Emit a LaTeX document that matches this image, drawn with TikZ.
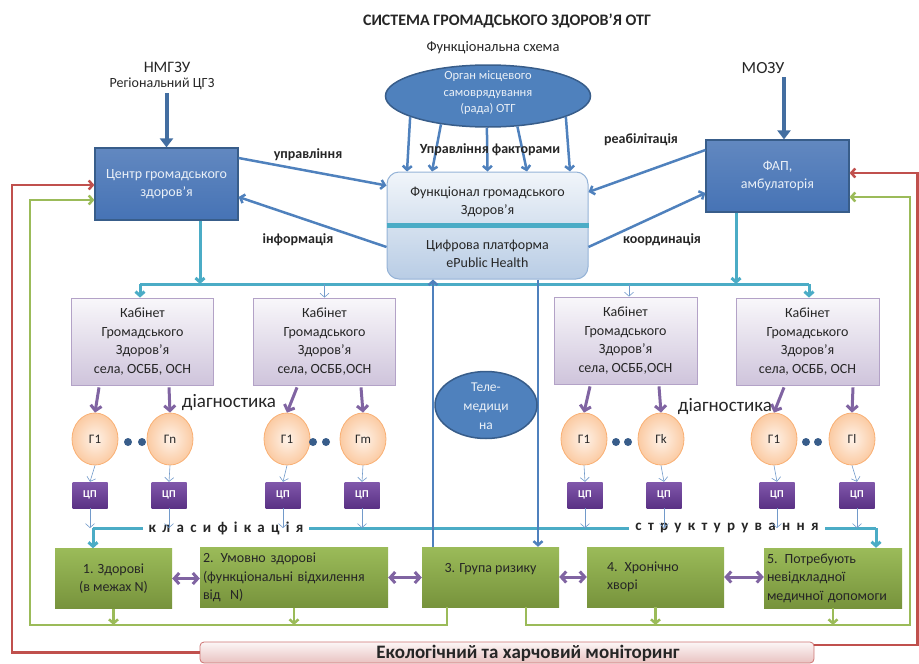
\documentclass[tikz,border=0pt]{standalone}
\usepackage{fontspec}
\setmainfont{Carlito}
\usetikzlibrary{arrows.meta,shapes.geometric,calc}

\definecolor{sbBlue}{HTML}{4F81BD}
\definecolor{sbBlueDark}{HTML}{385D8A}
\definecolor{sbBox}{HTML}{4673B5}
\definecolor{sbTeal}{HTML}{4BACC6}
\definecolor{sbPurple}{HTML}{8064A2}
\definecolor{sbViolet}{HTML}{6A3A9C}
\definecolor{sbGreen}{HTML}{9BBB59}
\definecolor{sbGreenDark}{HTML}{77933C}
\definecolor{sbRed}{HTML}{C0504D}
\definecolor{sbOrange}{HTML}{F79646}
\definecolor{sbText}{HTML}{262626}

\begin{document}
\begin{tikzpicture}[x=1pt, y=-1pt, >={Straight Barb[length=4pt,width=9pt]},
    boxfont/.style={font=\fontsize{14}{18.5}\selectfont},
    lbl/.style={font=\bfseries\fontsize{14}{16}\selectfont, text=sbText},
    bluebox/.style={draw=sbBlueDark, line width=1.2pt, top color=sbBox!85!white, bottom color=sbBox,
        text=white!88!sbBlue, align=center, minimum width=143pt, minimum height=72pt, boxfont},
    kabbox/.style={draw=sbPurple!60, line width=0.8pt, top color=sbPurple!5, bottom color=sbPurple!38,
        text=sbText, align=center, minimum width=142pt, minimum height=87pt, inner sep=0pt, boxfont},
    gnode/.style={ellipse, draw=sbOrange!75, line width=0.8pt, inner color=sbOrange!12, outer color=sbOrange!50,
        minimum width=46pt, minimum height=52pt, inner sep=0pt, text=sbText, font=\fontsize{13}{15}\selectfont},
    cpbox/.style={top color=sbViolet!85!white, bottom color=sbViolet!85!black, text=white,
        minimum width=35pt, minimum height=26pt, inner sep=0pt, font=\bfseries\fontsize{10.5}{12}\selectfont},
    grpbox/.style={top color=sbGreen, bottom color=sbGreenDark, text=sbText, minimum height=60pt,
        inner sep=0pt, boxfont},
    oval/.style={ellipse, draw=sbBlueDark, line width=1.5pt, fill=sbBlue, inner sep=0pt},
    ovaltext/.style={text=white!88!sbBlue, align=center},
    bluearrow/.style={->, draw=sbBlue, line width=2.5pt},
    bigarrow/.style={-{Triangle[length=9pt,width=13pt]}, draw=sbBlue!85!black, line width=4pt},
    tealarrow/.style={->, draw=sbTeal, line width=3pt},
    thinarrow/.style={->, draw=sbBlue!80, line width=0.6pt},
    purplearrow/.style={-{Straight Barb[length=5pt,width=11pt]}, draw=sbPurple, line width=3pt},
    greenline/.style={draw=sbGreen, line width=2.5pt},
    redline/.style={draw=sbRed, line width=2.5pt},
    spaced/.style={fill=white, inner xsep=6pt, inner ysep=1pt, text=sbText,
        font=\bfseries\fontsize{15}{17}\selectfont\addfontfeature{LetterSpace=42}}]

    % 1. Межі малюнка
    \useasboundingbox (0,0) rectangle (919,664);

    % 2. Заголовки та підписи зверху
    \node[font=\bfseries\fontsize{16}{18}\selectfont, text=sbText] (title) at (507,21) {СИСТЕМА ГРОМАДСЬКОГО ЗДОРОВ’Я ОТГ};
    \node[font=\fontsize{14.5}{16}\selectfont, text=sbText] (funkc) at (493,48) {Функціональна схема};
    \node[font=\fontsize{16}{18}\selectfont, text=sbText] (nmgzu) at (167,67) {НМГЗУ};
    \node[font=\fontsize{14}{16}\selectfont, text=sbText] (reg) at (162,84) {Регіональний ЦГЗ};
    \node[font=\fontsize{17}{18}\selectfont, text=sbText] (mozu) at (763,68) {МОЗУ};

    % 3. Верхній рівень
    \node[oval, minimum width=205pt, minimum height=62pt] (organ) at (488,96) {};
    \node[ovaltext, font=\fontsize{12.5}{16.5}\selectfont] (organt) at (488,93) {Орган місцевого\\самоврядування\\(рада) ОТГ};
    \node[bluebox] (cgz) at (166.5,184) {Центр громадського\\здоров’я};
    \node[bluebox] (fap) at (777.5,176) {ФАП,\\амбулаторія};
    \node[draw=sbBlue!60, line width=1pt, rounded corners=12pt, top color=sbBlue!8, bottom color=sbBlue!40,
          minimum width=201pt, minimum height=107pt] (plat) at (487.5,225.5) {};
    \draw[draw=sbTeal, line width=4.5pt] (plat.west) -- (plat.east);
    \node[boxfont, align=center, text=sbText] (platf) at (487.5,202) {Функціонал громадського\\Здоров’я};
    \node[boxfont, align=center, text=sbText] (platd) at (487.5,254) {Цифрова платформа\\ePublic Health};

    \draw[bigarrow] (cgz.north |- reg.south) -- (cgz.north);
    \coordinate (fapN) at ([xshift=6.5pt]fap.north);
    \draw[bigarrow] (fapN |- mozu.south) -- (fapN);

    % управління факторами
    \draw[bluearrow] (organ.195) -- ([xshift=-80.5pt]plat.north);
    \draw[bluearrow] (organ.211) -- ([xshift=-55.5pt]plat.north);
    \draw[bluearrow] (organ.268) -- (plat.north);
    \draw[bluearrow] (organ.314) -- ([xshift=39.5pt]plat.north);
    \draw[bluearrow] (organ.345) -- ([xshift=82.5pt]plat.north);
    \node[lbl] (uprf) at (490,150) {Управління факторами};

    % зв'язки з платформою
    \draw[bluearrow] ([yshift=26pt]cgz.east) -- ([yshift=40pt]plat.west);
    \draw[bluearrow] ([yshift=-21.5pt]plat.west) -- ([yshift=-13pt]cgz.east);
    \draw[bluearrow] ([yshift=26pt]fap.west) -- ([yshift=33.5pt]plat.east);
    \draw[bluearrow] ([yshift=-21.5pt]plat.east) -- ([yshift=-17pt]fap.west);
    \node[lbl] (upr) at (308,155) {управління};
    \node[lbl] (inf) at (298,240) {інформація};
    \node[lbl] (reab) at (641,140) {реабілітація};
    \node[lbl] (koord) at (662,240) {координація};

    % 4. Кабінети громадського здоров'я
    \node[kabbox] (kab1) at (142.5,341.5) {Кабінет\\Громадського\\Здоров’я\\села, ОСББ, ОСН};
    \node[kabbox] (kab2) at (324.5,341.5) {Кабінет\\Громадського\\Здоров’я\\села, ОСББ,ОСН};
    \node[kabbox, minimum width=143pt] (kab3) at (625.5,340.5) {Кабінет\\Громадського\\Здоров’я\\села, ОСББ,ОСН};
    \node[kabbox, minimum width=143pt] (kab4) at (807.5,341.5) {Кабінет\\Громадського\\Здоров’я\\села, ОСББ, ОСН};

    % 5. Шина розподілу
    \coordinate (busL) at (140,284);
    \coordinate (busR) at (809,284);
    \coordinate (cgzS) at ([xshift=33.5pt]cgz.south);
    \coordinate (fapS) at ([xshift=-41.5pt]fap.south);
    \coordinate (kab3N) at ([xshift=3.5pt]kab3.north);
    \draw[draw=sbTeal, line width=3pt] (busL) -- (busR);
    \draw[tealarrow] (cgzS) -- (cgzS |- busL);
    \draw[tealarrow] (fapS) -- (fapS |- busL);
    \draw[tealarrow] (busL) -- (busL |- kab1.north);
    \draw[tealarrow] (busR) -- (busR |- kab4.north);
    \draw[thinarrow] (kab2.north |- busL) -- (kab2.north);
    \draw[thinarrow] (kab3N |- busL) -- (kab3N);

    % 6. Групи населення (кола)
    \node[gnode] (g11) at (95,439) {Г1};
    \node[gnode] (g1n) at (170,439) {Гn};
    \node[gnode] (g21) at (287,439) {Г1};
    \node[gnode] (g2m) at (363,439) {Гm};
    \node[gnode] (g31) at (584,439) {Г1};
    \node[gnode] (g3k) at (661,439) {Гk};
    \node[gnode] (g41) at (774,439) {Г1};
    \node[gnode] (g4l) at (852,439) {Гl};
    \foreach \dx in {128,142,313,326,616,628,806,818}
        \fill[sbBlueDark] (\dx,442) circle (4pt);

    \draw[purplearrow] ($(g11.north |- kab1.south)+(4,2)$) -- (g11.north);
    \draw[purplearrow] ($(g1n.north |- kab1.south)+(-1,2)$) -- (g1n.north);
    \draw[purplearrow] ($(g21.north |- kab2.south)+(10,2)$) -- (g21.north);
    \draw[purplearrow] ($(g2m.north |- kab2.south)+(-2,2)$) -- (g2m.north);
    \draw[purplearrow] ($(g31.north |- kab3.south)+(6,2)$) -- (g31.north);
    \draw[purplearrow] ($(g3k.north |- kab3.south)+(-2,2)$) -- (g3k.north);
    \draw[purplearrow] ($(g41.north |- kab4.south)+(10,2)$) -- (g41.north);
    \draw[purplearrow] ($(g4l.north |- kab4.south)+(1,2)$) -- (g4l.north);
    \node[font=\fontsize{19}{20}\selectfont, text=sbText] (diag1) at (229,403) {діагностика};
    \node[font=\fontsize{19}{20}\selectfont, text=sbText] (diag2) at (725,407) {діагностика};

    % 7. Цифрові паспорти
    \node[cpbox] (c11) at (90,495) {ЦП};
    \node[cpbox] (c1n) at (169,495) {ЦП};
    \node[cpbox] (c21) at (283,495) {ЦП};
    \node[cpbox] (c2m) at (362,495) {ЦП};
    \node[cpbox] (c31) at (585,495) {ЦП};
    \node[cpbox] (c3k) at (664,495) {ЦП};
    \node[cpbox] (c41) at (777,495) {ЦП};
    \node[cpbox] (c4l) at (857,495) {ЦП};

    % 8. Класифікація та структурування
    \coordinate (klasL) at (93,528);
    \coordinate (strR) at (876,528);
    \draw[draw=sbTeal, line width=3pt] (klasL) -- (strR);
    \node[spaced] (klas) at (226,528) {класифікація};
    \node[spaced] (strukt) at (727,528) {структурування};

    \foreach \g/\c in {g11/c11,g1n/c1n,g21/c21,g2m/c2m,g31/c31,g3k/c3k,g41/c41,g4l/c4l}{
        \draw[thinarrow] (\g.south) -- (\c.north);
        \draw[thinarrow] (\c.south) -- (\c.south |- klasL);
    }

    % 9. Групи здоров'я
    \node[grpbox, minimum width=117pt, align=center] (grp1) at (113.5,578.5) {1. Здорові\\(в межах N)};
    \node[grpbox, minimum width=188pt, text width=182pt, align=left] (grp2) at (294,577.5)
        {2. Умовно здорові\\(функціональні відхилення\\від\ \ N)};
    \node[grpbox, minimum width=137pt, align=center] (grp3) at (490.5,577) {3. Група ризику\\\mbox{}};
    \node[grpbox, minimum width=137pt, text width=97pt, align=left] (grp4) at (655.5,577) {4. Хронічно\\хворі};
    \node[grpbox, minimum width=138pt, text width=132pt, align=left] (grp5) at (833,578)
        {5. Потребують\\невідкладної\\медичної допомоги};

    \draw[tealarrow] (klasL) -- (klasL |- grp1.north);
    \draw[tealarrow] (strR) -- (strR |- grp5.north);

    \draw[purplearrow, {Straight Barb[length=5pt,width=11pt]}-{Straight Barb[length=5pt,width=11pt]}]
        (grp1.east) -- (grp1.east -| grp2.west);
    \draw[purplearrow, {Straight Barb[length=5pt,width=11pt]}-{Straight Barb[length=5pt,width=11pt]}]
        (grp2.east) -- (grp2.east -| grp3.west);
    \draw[purplearrow, {Straight Barb[length=5pt,width=11pt]}-{Straight Barb[length=5pt,width=11pt]}]
        (grp3.east) -- (grp3.east -| grp4.west);
    \draw[purplearrow, {Straight Barb[length=5pt,width=11pt]}-{Straight Barb[length=5pt,width=11pt]}]
        (grp4.east) -- (grp4.east -| grp5.west);

    % 10. Телемедицина
    \coordinate (teleUp) at ([xshift=-57.5pt]grp3.north);
    \coordinate (teleDn) at ([xshift=47.5pt]grp3.north);
    \draw[bluearrow] (teleUp) -- (teleUp |- plat.south);
    \draw[bluearrow] (teleDn |- plat.south) -- (teleDn);
    \node[oval, minimum width=102pt, minimum height=67pt] (tele) at (486,405) {};
    \node[ovaltext, font=\fontsize{13.5}{19}\selectfont] (telet) at (486,406) {Теле-\\медици\\на};

    % 11. Зворотний зв'язок (зелений)
    \coordinate (gL) at (30,625);
    \coordinate (gR) at (910,625);
    \coordinate (g3L) at ([xshift=-43.5pt]grp3.south);
    \coordinate (g3R) at ([xshift=35.5pt]grp3.south);
    \coordinate (cgzG) at ([yshift=-16pt]cgz.west);
    \coordinate (fapG) at ([yshift=-21pt]fap.east);
    \draw[greenline, ->] (g3L) |- (gL) |- (cgzG);
    \draw[greenline, ->] (g3R) |- (gR) |- (fapG);
    \draw[greenline, ->] (grp1.south) -- (grp1.south |- gL);
    \draw[greenline, ->] (grp2.south) -- (grp2.south |- gL);
    \draw[greenline, ->] (grp4.south) -- (grp4.south |- gR);
    \draw[greenline, ->] (grp5.south) -- (grp5.south |- gR);

    % 12. Екологічний моніторинг (червоний)
    \node[draw=sbRed!80, line width=0.8pt, rounded corners=4pt, top color=sbRed!5, bottom color=sbRed!35,
          minimum width=614pt, minimum height=21pt] (eco) at (507,652.5) {};
    \node[font=\bfseries\fontsize{19}{20}\selectfont, text=sbText] (ecot) at (528,653) {Екологічний та харчовий моніторинг};
    \coordinate (rL) at (12,0);
    \coordinate (rR) at (917.5,0);
    \coordinate (ecoR) at ([yshift=7.5pt]eco.east);
    \coordinate (cgzR) at ([yshift=-1pt]cgz.west);
    \coordinate (fapR) at ([yshift=3pt]fap.east);
    \draw[redline, ->] (eco.west) -- (eco.west -| rL) |- (cgzR);
    \draw[redline, ->] (ecoR) -- (ecoR -| rR) |- (fapR);
\end{tikzpicture}
\end{document}
